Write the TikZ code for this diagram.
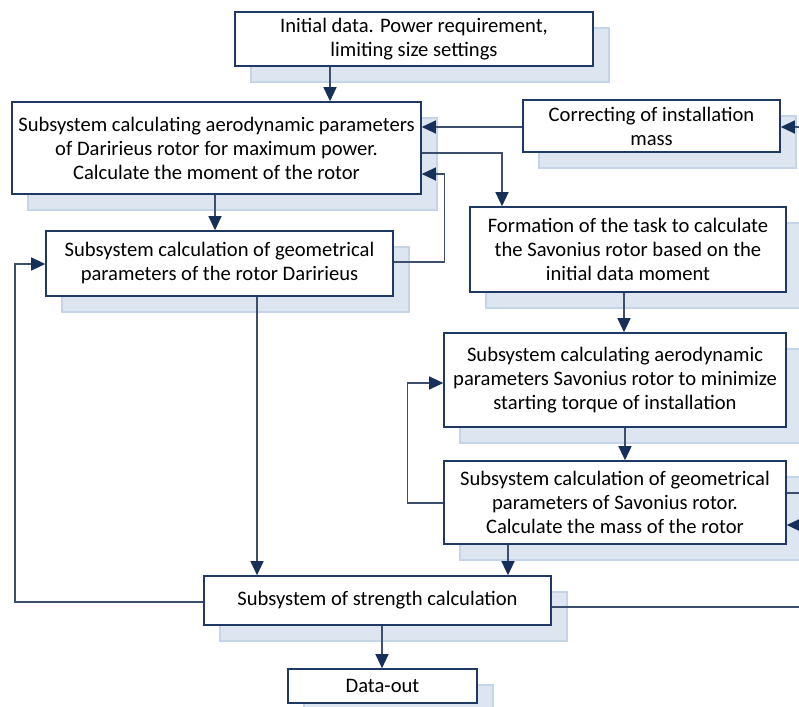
\documentclass[tikz,border=0pt]{standalone}
\usepackage{fontspec}
\setmainfont{Carlito}
\usetikzlibrary{arrows.meta,shadows}
\definecolor{boxc}{HTML}{1F3864}
\definecolor{linec}{HTML}{3E4F6E}
\definecolor{tipc}{HTML}{17305A}
\definecolor{shfill}{HTML}{DCE5F0}
\definecolor{shdraw}{HTML}{C6D4E8}
\tikzset{
  blk/.style={draw=boxc, fill=white, line width=1.6pt, align=center, inner sep=0pt,
    font=\fontsize{20.6}{24}\selectfont,
    general shadow={shadow xshift=16pt, shadow yshift=-16pt, fill=shfill, draw=shdraw, line width=1.2pt}},
  conn/.style={draw=linec, line width=1.2pt},
  arr/.style={conn, -{Triangle[length=14pt,width=13pt,color=tipc]}}
}
\begin{document}
\begin{tikzpicture}[x=1pt,y=-1pt]
\useasboundingbox (0,0) rectangle (799,706);
\begin{scope}
\clip (0,0) rectangle (799,706);
\node[blk, minimum width=358pt, minimum height=54pt] (initial) at (414,39) {Initial data. Power requirement,\\limiting size settings};
\node[blk, minimum width=409pt, minimum height=92pt] (daero) at (216.5,148) {Subsystem calculating aerodynamic parameters\\of Daririeus rotor for maximum power.\\Calculate the moment of the rotor};
\node[blk, minimum width=347pt, minimum height=65pt] (dgeom) at (219.5,263.5) {Subsystem calculation of geometrical\\parameters of the rotor Daririeus};
\node[blk, minimum width=257pt, minimum height=52pt] (correct) at (651.5,126) {Correcting of installation\\mass};
\node[blk, minimum width=316pt, minimum height=85pt] (form) at (628,249.5) {Formation of the task to calculate\\the Savonius rotor based on the\\initial data moment};
\node[blk, minimum width=342pt, minimum height=94pt] (saero) at (615,380) {Subsystem calculating aerodynamic\\parameters Savonius rotor to minimize\\starting torque of installation};
\node[blk, minimum width=342pt, minimum height=83pt] (sgeom) at (615,502.5) {Subsystem calculation of geometrical\\parameters of Savonius rotor.\\Calculate the mass of the rotor};
\node[blk, minimum width=347pt, minimum height=49pt] (strength) at (377.5,600.5) {Subsystem of strength calculation};
\node[blk, minimum width=189pt, minimum height=34pt] (dataout) at (382.5,686) {Data-out};
\end{scope}
\coordinate (r1) at (799,127);
\coordinate (r2) at (799,493);
\coordinate (r3) at (799,525);
\coordinate (r4) at (799,607);
\draw[arr] (initial.south -| 330,0) -- (daero.north -| 330,0);
\draw[arr] (correct.west |- r1) -- (daero.east |- r1);
\draw[arr] (daero.east |- 0,153) -| (form.north -| 502,0);
\draw[arr] (dgeom.east |- 0,262) -- ++(51,0) |- (daero.east |- 0,174);
\draw[arr] (daero.south -| 215,0) -- (dgeom.north -| 215,0);
\draw[arr] (dgeom.south -| 257,0) -- (strength.north -| 257,0);
\draw[arr] (form.south -| 624,0) -- (saero.north -| 624,0);
\draw[arr] (saero.south -| 625,0) -- (sgeom.north -| 625,0);
\draw[arr] (sgeom.west |- 0,503) -- ++(-36,0) |- (saero.west |- 0,383);
\draw[conn] (sgeom.east |- r2) -- (r2);
\draw[arr] (r3) -- (sgeom.east |- r3);
\draw[arr] (r1) -- (correct.east |- r1);
\draw[conn] (strength.east |- r4) -- (r4);
\draw[arr] (strength.west |- 0,602) -- (15,602) |- (dgeom.west |- 0,264);
\draw[arr] (sgeom.south -| 508,0) -- (strength.north -| 508,0);
\draw[arr] (strength.south -| 382,0) -- (dataout.north -| 382,0);
\end{tikzpicture}
\end{document}
